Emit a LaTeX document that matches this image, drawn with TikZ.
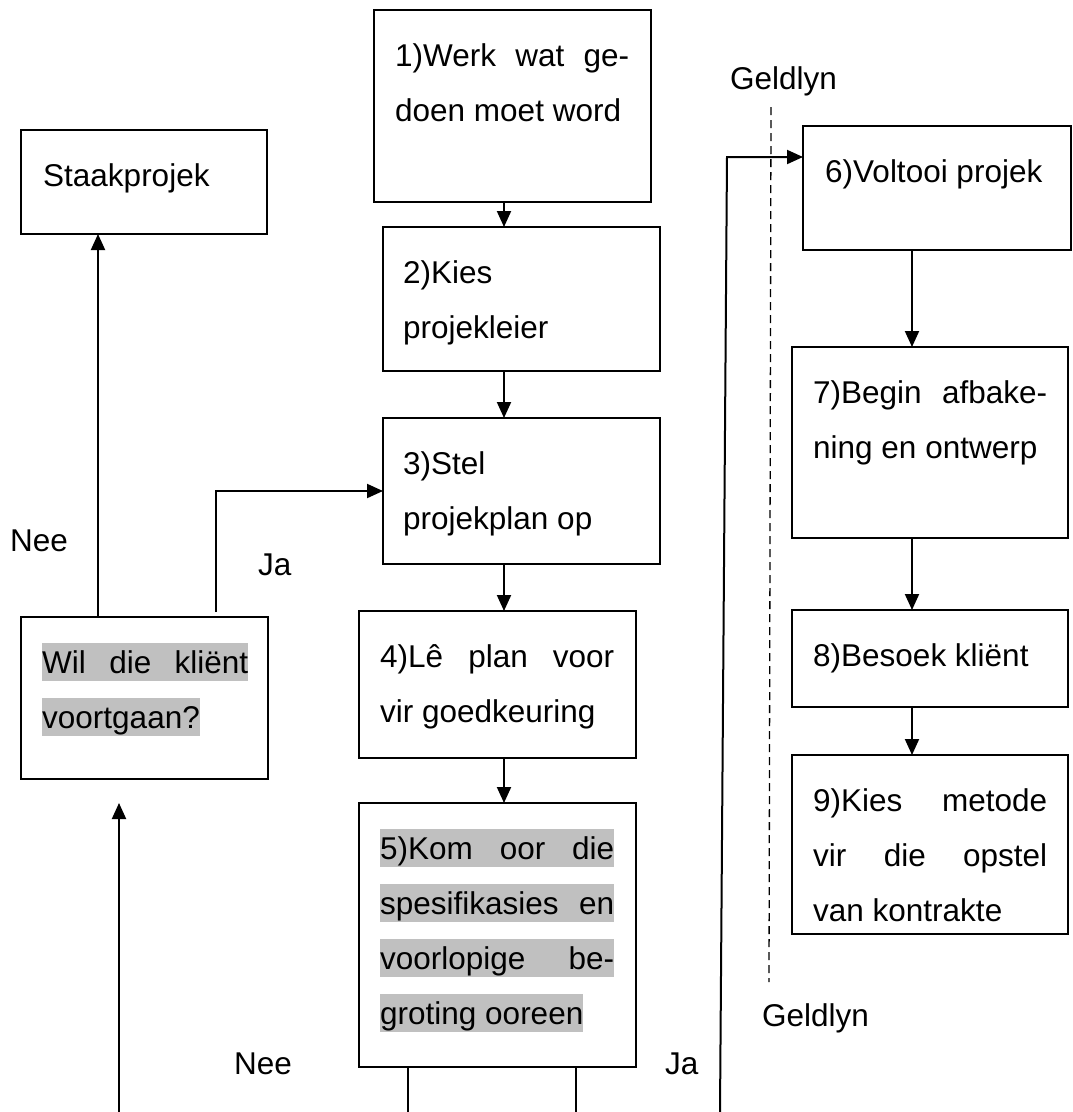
\documentclass[tikz,border=0pt]{standalone}
\usepackage{fontspec}
\setmainfont{Liberation Sans}
\usepackage{xcolor}
\usepackage{tikz}
\usetikzlibrary{arrows.meta,calc}

\definecolor{hlgray}{RGB}{192,192,192}
\newcommand{\boxfont}{\fontsize{31.5pt}{55pt}\selectfont}
\newcommand{\jl}[2][234pt]{\makebox[#1][s]{#2}}
\newcommand{\hl}[1]{{\setlength{\fboxsep}{0pt}\colorbox{hlgray}{\rule[-8pt]{0pt}{38pt}#1}}}

\begin{document}
\begin{tikzpicture}[
        x=1pt, y=-1pt,
        box/.style 2 args={draw, line width=2pt, anchor=north west, inner sep=0pt, outer sep=0pt, minimum width=#1, minimum height=#2},
        txt/.style={anchor=north west, inner sep=0pt, align=left, font=\boxfont},
        lbl/.style={anchor=base west, inner sep=0pt, font=\boxfont},
        arrow/.style={-{Triangle[length=16pt,width=14pt]}, line width=2pt},
        conn/.style={line width=2pt},
        geld/.style={dash pattern=on 8pt off 5pt, line width=1.3pt}
      ]
        \useasboundingbox (0,0) rectangle (1073,1112);

        % Middle column
        \node[box={277pt}{192pt}] (b1) at (374,10) {};
        \node[box={277pt}{144pt}] (b2) at (383,227) {};
        \node[box={277pt}{146pt}] (b3) at (383,418) {};
        \node[box={277pt}{147pt}] (b4) at (359,611) {};
        \node[box={277pt}{264pt}] (b5) at (359,803) {};

        % Left column
        \node[box={246pt}{104pt}] (staak) at (21,130) {};
        \node[box={247pt}{162pt}] (wil) at (21,617) {};

        % Right column
        \node[box={268pt}{124pt}] (b6) at (803,126) {};
        \node[box={276pt}{191pt}] (b7) at (792,347) {};
        \node[box={276pt}{97pt}] (b8) at (792,610) {};
        \node[box={276pt}{179pt}] (b9) at (792,755) {};

        % Box texts
        \node[txt] (t1) at ([shift={(21,17.5)}]b1.north west) {\strut\jl{1)Werk wat ge-}\\doen moet word};
        \node[txt] (t2) at ([shift={(20,17.5)}]b2.north west) {\strut 2)Kies\\projekleier};
        \node[txt] (t3) at ([shift={(20,17.5)}]b3.north west) {\strut 3)Stel\\projekplan op};
        \node[txt] (t4) at ([shift={(21,17.5)}]b4.north west) {\strut\jl{4)Lê plan voor}\\vir goedkeuring};
        \node[txt] (t5) at ([shift={(21,17.5)}]b5.north west) {\strut\hl{\jl{5)Kom oor die}}\\\hl{\jl{spesifikasies en}}\\\hl{\jl{voorlopige be-}}\\\hl{groting ooreen}};
        \node[txt] (tstaak) at ([shift={(22,17.5)}]staak.north west) {\strut Staakprojek};
        \node[txt] (twil) at ([shift={(21,17.5)}]wil.north west) {\strut\hl{\jl[206pt]{Wil die kliënt}}\\\hl{voortgaan?}};
        \node[txt] (t6) at ([shift={(22,17.5)}]b6.north west) {\strut 6)Voltooi projek};
        \node[txt] (t7) at ([shift={(21,17.5)}]b7.north west) {\strut\jl{7)Begin afbake-}\\ning en ontwerp};
        \node[txt] (t8) at ([shift={(21,17.5)}]b8.north west) {\strut 8)Besoek kliënt};
        \node[txt] (t9) at ([shift={(21,17.5)}]b9.north west) {\strut\jl{9)Kies metode}\\\jl{vir die opstel}\\van kontrakte};

        % Labels
        \node[lbl] (nee1) at (10,551) {Nee};
        \node[lbl] (ja1) at (258,575) {Ja};
        \node[lbl] (nee2) at (234,1074) {Nee};
        \node[lbl] (ja2) at (665,1074) {Ja};
        \node[lbl] (geld1) at (730,89) {Geldlyn};
        \node[lbl] (geld2) at (762,1026) {Geldlyn};

        % Helper coordinates
        \coordinate (mid) at (504,0);
        \coordinate (rc) at (912,0);
        \coordinate (neex) at (98,0);
        \coordinate (jafoot) at (216,612);
        \coordinate (neeend) at (408,1112);
        \coordinate (jaend) at (576,1112);
        \coordinate (backfoot) at (119,1112);
        \coordinate (backtip) at (119,803);
        \coordinate (onfoot) at (720,1112);
        \coordinate (onbend) at (727,157);
        \coordinate (gtop) at (771,107);
        \coordinate (gbot) at (769,982);

        % Arrows
        \draw[arrow] (b1.south -| mid) -- (b2.north -| mid);
        \draw[arrow] (b2.south -| mid) -- (b3.north -| mid);
        \draw[arrow] (b3.south -| mid) -- (b4.north -| mid);
        \draw[arrow] (b4.south -| mid) -- (b5.north -| mid);
        \draw[arrow] (b6.south -| rc) -- (b7.north -| rc);
        \draw[arrow] (b7.south -| rc) -- (b8.north -| rc);
        \draw[arrow] (b8.south -| rc) -- (b9.north -| rc);
        \draw[arrow] (wil.north -| neex) -- (staak.south -| neex);
        \draw[arrow] (jafoot) |- (b3.west);
        \draw[conn] (b5.south -| neeend) -- (neeend);
        \draw[conn] (b5.south -| jaend) -- (jaend);
        \draw[arrow] (backfoot) -- (backtip);
        \draw[arrow] (onfoot) -- (onbend) -- (onbend -| b6.west);
        \draw[geld] (gtop) -- (gbot);
      \end{tikzpicture}
\end{document}
